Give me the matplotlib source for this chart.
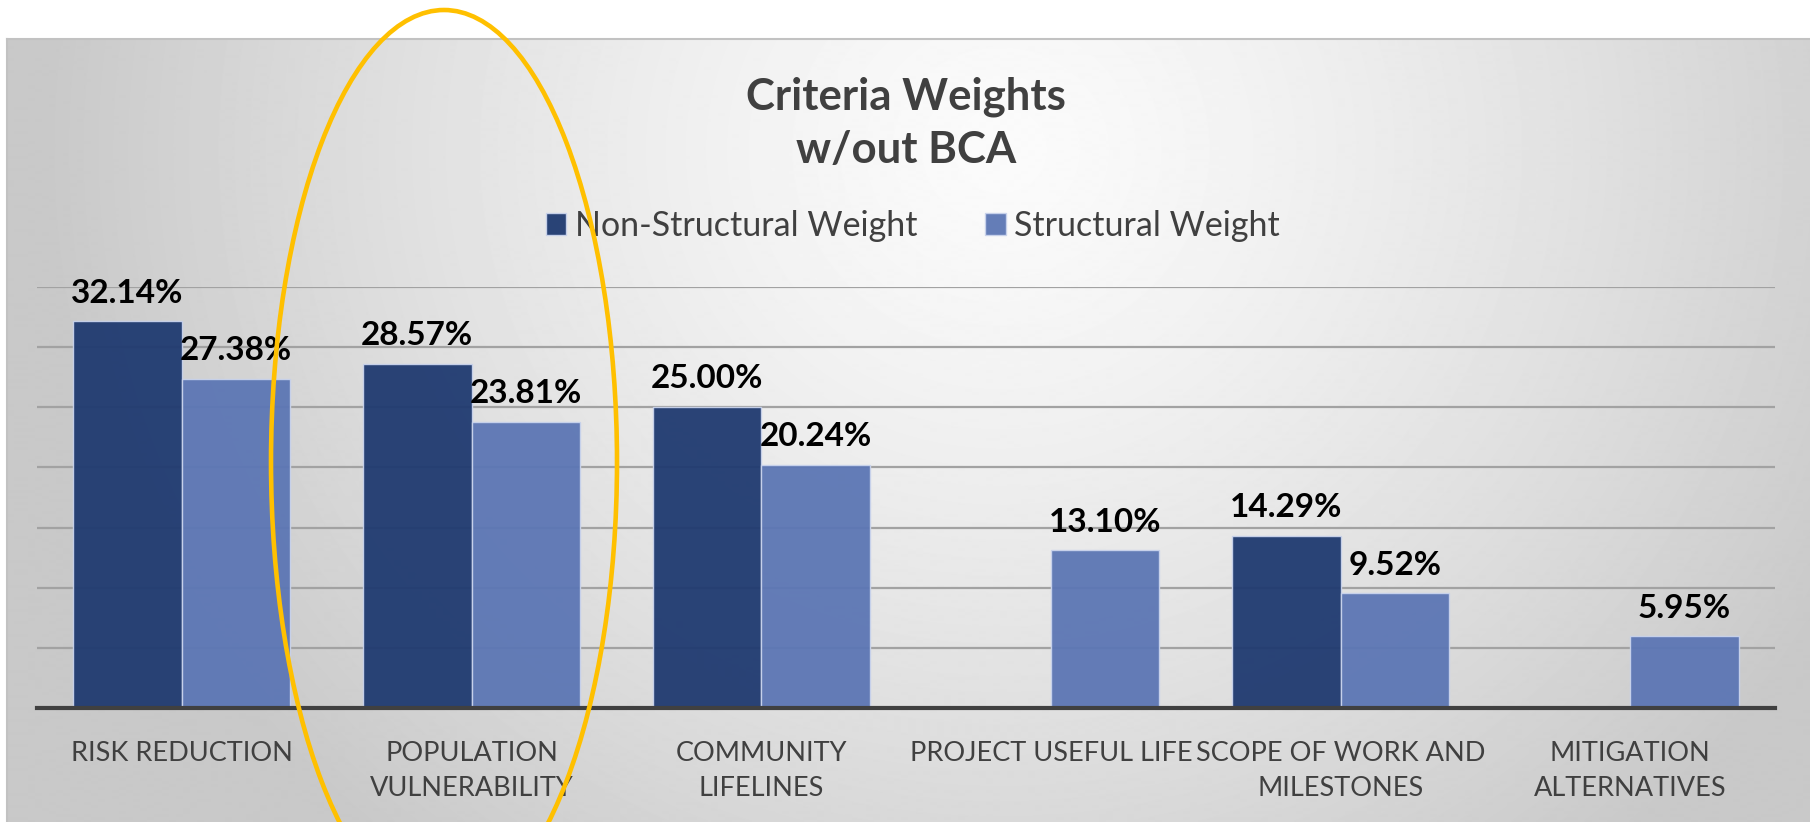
import numpy as np
import matplotlib
matplotlib.use('Agg')
import matplotlib.pyplot as plt
from matplotlib.patches import Ellipse

categories = ['RISK REDUCTION',
              'POPULATION\nVULNERABILITY',
              'COMMUNITY\nLIFELINES',
              'PROJECT USEFUL LIFE',
              'SCOPE OF WORK AND\nMILESTONES',
              'MITIGATION\nALTERNATIVES']
non_structural = [32.14, 28.57, 25.00, np.nan, 14.29, np.nan]
structural = [27.38, 23.81, 20.24, 13.10, 9.52, 5.95]
series_names = ['Non-Structural Weight', 'Structural Weight']
title = 'Criteria Weights\nw/out BCA'

dark = '#1F3A70'
light = '#5C76B4'
text_grey = '#404040'

plt.rcParams['font.family'] = ['Liberation Sans Narrow', 'Lato', 'DejaVu Sans']

W, H = 1810, 822
fig = plt.figure(figsize=(W / 100, H / 100), dpi=100)

# grey radial background panel
bg = fig.add_axes([7 / W, 0, 1 - 7 / W, 783 / H], zorder=-10)
yy, xx = np.mgrid[39:822, 7:1810]
d = np.sqrt(((xx - 1000) / 950.) ** 2 + ((yy - 150) / 900.) ** 2)
shade = 251 - 50 * np.clip(d, 0, 1) ** 1.3
bg.imshow(shade, cmap='gray', vmin=0, vmax=255, aspect='auto', interpolation='bilinear')
bg.set_xticks([])
bg.set_yticks([])
for s in ['right', 'bottom']:
    bg.spines[s].set_visible(False)
for s in ['top', 'left']:
    bg.spines[s].set_color('#C2C2C2')
    bg.spines[s].set_linewidth(1.5)

ax = fig.add_axes([37 / W, 1 - 708 / H, (1775 - 37) / W, (708 - 287) / H])
ax.patch.set_alpha(0)

x = np.arange(len(categories))
w = 0.375
b1 = ax.bar(x - w / 2, non_structural, w, color=dark, edgecolor='#C9D3EC',
            linewidth=1, alpha=0.95, label=series_names[0], zorder=3)
b2 = ax.bar(x + w / 2, structural, w, color=light, edgecolor='#C9D3EC',
            linewidth=1, alpha=0.95, label=series_names[1], zorder=3)

for bars, vals in [(b1, non_structural), (b2, structural)]:
    for rect, v in zip(bars, vals):
        if np.isnan(v):
            continue
        ax.annotate(f'{v:.2f}%', (rect.get_x() + rect.get_width() / 2, v),
                    xytext=(0, 10), textcoords='offset points',
                    ha='center', va='bottom', fontsize=24, fontweight='bold',
                    color='black', zorder=5)

ax.set_xlim(-0.5, 5.5)
ax.set_ylim(0, 35)
ax.set_yticks(np.arange(5, 36, 5))
ax.yaxis.grid(True, color='#A2A2A2', lw=1.6)
ax.set_axisbelow(True)
ax.tick_params(axis='y', length=0, labelleft=False)
ax.set_xticks(x)
ax.set_xticklabels(categories, linespacing=1.5)
ax.tick_params(axis='x', length=0, pad=24, labelsize=19.5, labelcolor=text_grey)
for s in ['top', 'right', 'left']:
    ax.spines[s].set_visible(False)
ax.spines['bottom'].set_color(text_grey)
ax.spines['bottom'].set_linewidth(3)
ax.spines['bottom'].set_zorder(4)

fig.text(906 / W, 1 - 123 / H, title, ha='center', va='center', fontsize=31.5,
         fontweight='bold', color=text_grey, linespacing=1.4)

fig.legend(handles=[b1, b2], loc='center', bbox_to_anchor=(913 / W, 1 - 226 / H),
           ncol=2, frameon=False, fontsize=24.5, handlelength=0.6, handleheight=0.6,
           handletextpad=0.25, columnspacing=2.0, labelcolor=text_grey)

# highlight ring
fig.add_artist(Ellipse((4.44, (H - 462) / 100), 3.46, 9.04, transform=fig.dpi_scale_trans,
                       fill=False, edgecolor='#FFC000', lw=3.3, zorder=10))

fig.savefig('out.png', dpi=100)
